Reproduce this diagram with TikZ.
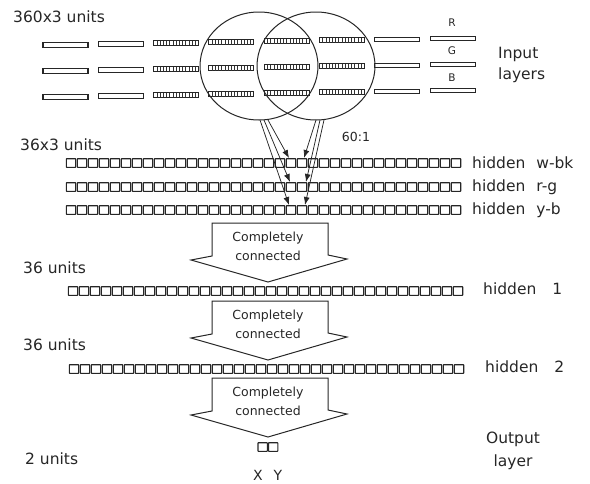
\documentclass[tikz,border=0pt]{standalone}
\usepackage{fontspec}
\setmainfont{DejaVu Sans}
\usetikzlibrary{arrows.meta,shapes.geometric}
\tikzset{
  cell/.style={draw=black!85, line width=1.1pt, rounded corners=0.5pt},
  plainbar/.style={draw=black!85, line width=1.1pt},
  tick/.style={draw=black!80, line width=0.6pt},
  ring/.style={draw=black!85, line width=1pt, ellipse, minimum width=118pt, minimum height=108pt, inner sep=0pt},
  feed/.style={draw=black!85, line width=0.75pt, -{Latex[length=8pt,width=6pt]}},
  bigarrow/.style={draw=black!85, line width=1pt, line join=miter},
  lbl/.style={font=\fontsize{15.5}{17}\selectfont, inner sep=0pt, anchor=west, text=black!85},
  small/.style={font=\fontsize{12.5}{14}\selectfont, inner sep=0pt, text=black!85},
  tiny/.style={font=\fontsize{10.5}{12}\selectfont, inner sep=0pt, text=black!85},
}
\begin{document}
\begin{tikzpicture}[x=1pt,y=-1pt]
\useasboundingbox (0,0) rectangle (590,483);

% ---------- input layers ----------
\node[lbl] (t360) at (13,17) {360x3 units};
\foreach \r/\yy in {0/45,1/71,2/97}{
  \foreach \b in {0,...,7}{
    \pgfmathsetmacro{\xx}{43+\b*55.3}
    \pgfmathsetmacro{\yb}{\yy-0.0173*(\xx-43)}
    \ifnum\b>1 \ifnum\b<6
      \draw[cell, rounded corners=0pt] (\xx,\yb-2.4) rectangle ++(45,4.8);
      \foreach \k in {1,...,13}{\draw[tick] ({\xx+\k*3.2},\yb-2.4) -- ++(0,4.8);}
    \else
      \draw[plainbar] (\xx,\yb-2.2) rectangle ++(45,4.4);
    \fi\else
      \draw[plainbar] (\xx,\yb-2.2) rectangle ++(45,4.4);
    \fi
  }
}
\node[tiny] (R) at (452,23) {R};
\node[tiny] (G) at (452,51) {G};
\node[tiny] (B) at (452,78) {B};
\node[lbl] (inp1) at (498,54) {Input};
\node[lbl] (inp2) at (498,75) {layers};

% ---------- receptive fields ----------
\node[ring] (lc) at (259,66) {};
\node[ring] (rc) at (316,66) {};

% ---------- hidden colour layers ----------
\node[lbl] (t36x3) at (20,145) {36x3 units};
\foreach \yy in {163,187,210}{
  \foreach \i in {0,...,35}{\draw[cell] ({66.3+\i*11},\yy-4.3) rectangle ++(9.4,8.6);}
}
\coordinate (h1) at (289,158);
\coordinate (h2) at (290,182);
\coordinate (h3) at (289,205);
\coordinate (k1) at (304,158);
\coordinate (k2) at (306,182);
\coordinate (k3) at (305,205);
\coordinate (ls1) at (268,120);
\coordinate (ls2) at (264,120);
\coordinate (ls3) at (260,120);
\coordinate (rs1) at (316,120);
\coordinate (rs2) at (320,120);
\coordinate (rs3) at (324,120);
\foreach \n in {1,2,3}{
  \draw[feed] (ls\n) -- (h\n);
  \draw[feed] (rs\n) -- (k\n);
}
\node[small] (ratio) at (356,137) {60:1};
\node[lbl] (lwbk) at (472,163) {hidden\hspace{11pt}w-bk};
\node[lbl] (lrg)  at (472,187) {hidden\hspace{11pt}r-g};
\node[lbl] (lyb)  at (472,210) {hidden\hspace{11pt}y-b};

% ---------- big arrows ----------
\foreach \T in {223,301,378}{
  \draw[bigarrow] (212,\T) -- (328,\T) -- (328,\T+32) -- (347,\T+36) -- (268,\T+59)
        -- (191,\T+37) -- (212,\T+33) -- cycle;
  \node[small] at (268,\T+15) {Completely};
  \node[small] at (268,\T+33) {connected};
}

% ---------- hidden 1 / hidden 2 ----------
\node[lbl] (t36a) at (23,268) {36 units};
\foreach \i in {0,...,35}{\draw[cell] ({68.3+\i*11},291-4.3) rectangle ++(9.4,8.6);}
\node[lbl] (lh1) at (483,289) {hidden\hspace{16pt}1};

\node[lbl] (t36b) at (23,345) {36 units};
\foreach \i in {0,...,35}{\draw[cell] ({69.3+\i*11},369-4.3) rectangle ++(9.4,8.6);}
\node[lbl] (lh2) at (485,367) {hidden\hspace{16pt}2};

% ---------- output ----------
\draw[cell] (258,447-4.3) rectangle ++(9.4,8.6);
\draw[cell] (268.5,447-4.3) rectangle ++(9.4,8.6);
\node[lbl] (t2) at (25,459) {2 units};
\node[small, font=\fontsize{14}{16}\selectfont] (X) at (258,475) {X};
\node[small, font=\fontsize{14}{16}\selectfont] (Y) at (278,475) {Y};
\node[lbl, anchor=center] (out1) at (513,439) {Output};
\node[lbl, anchor=center] (out2) at (513,462) {layer};
\end{tikzpicture}
\end{document}
